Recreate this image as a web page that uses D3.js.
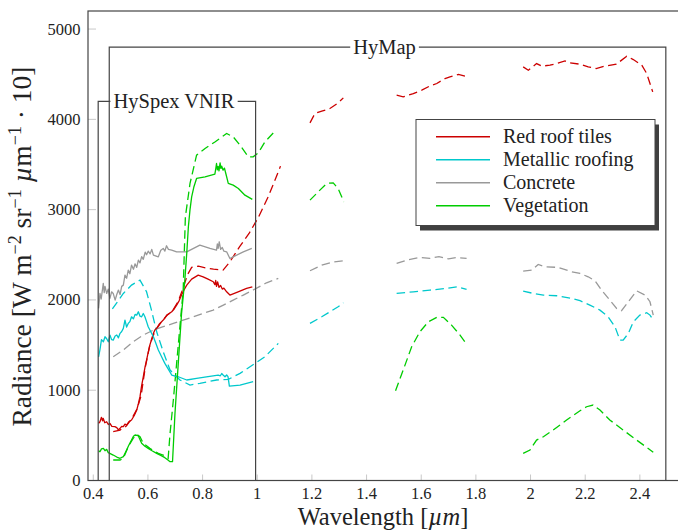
<!DOCTYPE html>
<html>
<head>
<meta charset="utf-8">
<script src="https://cdn.jsdelivr.net/npm/d3@7"></script>
<style>
  html, body { margin: 0; padding: 0; background: #fff; }
  svg { display: block; }
</style>
</head>
<body>
<div id="chart"></div>
<script>
// radiance spectra of four materials, HySpex VNIR (solid) and HyMap (dashed)
// values are [wavelength in um, radiance]; null breaks a line

const xTicks = [0.4, 0.6, 0.8, 1.0, 1.2, 1.4, 1.6, 1.8, 2.0, 2.2, 2.4];
const xTickLabels = ["0.4", "0.6", "0.8", "1", "1.2", "1.4", "1.6", "1.8", "2", "2.2", "2.4"];
const yTicks = [0, 1000, 2000, 3000, 4000, 5000];
const yTickLabels = ["0", "1000", "2000", "3000", "4000", "5000"];

const materials = ["Red roof tiles", "Metallic roofing", "Concrete", "Vegetation"];
const colors = ["#cc0000", "#00c8cc", "#999999", "#00cc00"];

// sensor footprints: [start um, end um, top radiance]
const hyspexRange = [0.418, 0.994, 4200];
const hymapRange = [0.4585, 2.495, 4800];

const redVnir = [[0.4195,633],[0.4245,651],[0.43,700],[0.434,660],[0.4366,688],[0.442,640],[0.449,651],[0.455,620],[0.461,633],[0.468,600],[0.479,596],[0.486,585],[0.492,560],[0.498,578],[0.504,600],[0.51,596],[0.516,625],[0.522,614],[0.53,650],[0.54,670],[0.55,720],[0.559,780],[0.565,850],[0.571,928],[0.577,1050],[0.583,1149],[0.589,1250],[0.595,1334],[0.601,1420],[0.607,1500],[0.614,1570],[0.62,1630],[0.626,1670],[0.632,1685],[0.641,1730],[0.65,1758],[0.66,1790],[0.669,1832],[0.678,1850],[0.687,1869],[0.696,1900],[0.705,1943],[0.714,1990],[0.723,2054],[0.732,2110],[0.742,2164],[0.76,2230],[0.784,2275],[0.802,2256],[0.82,2230],[0.839,2201],[0.845,2170],[0.848,2215],[0.851,2150],[0.855,2200],[0.86,2140],[0.866,2160],[0.872,2120],[0.878,2130],[0.888,2090],[0.9,2054],[0.93,2090],[0.961,2127],[0.982,2145]];
const redHymap = [[0.473,540],[0.498,559],[0.52,600],[0.54,680],[0.56,790],[0.575,940],[0.59,1250],[0.607,1500],[0.625,1650],[0.65,1760],[0.67,1830],[0.69,1880],[0.71,1980],[0.725,2100],[0.745,2280],[0.76,2360],[0.785,2374],[0.81,2356],[0.84,2341],[0.875,2330],[0.9,2422],[0.935,2588],[0.97,2736],[1.005,2920],[1.04,3142],[1.065,3327],[1.085,3482],
  null,[1.193,3961],[1.211,4065],[1.236,4090],[1.266,4120],[1.296,4182],[1.315,4238],
  null,[1.51,4267],[1.534,4249],[1.571,4286],[1.602,4323],[1.632,4370],[1.657,4397],[1.687,4452],[1.705,4470],[1.736,4497],[1.76,4478],
  null,[1.973,4581],[1.992,4544],[2.022,4618],[2.041,4589],[2.071,4600],[2.096,4618],[2.126,4647],[2.144,4625],[2.181,4611],[2.211,4581],[2.24,4563],[2.27,4589],[2.314,4611],[2.352,4699],[2.376,4662],[2.407,4600],[2.425,4508],[2.437,4397],[2.447,4304]];

const metalVnir = [[0.4195,1370],[0.4245,1450],[0.43,1560],[0.437,1537],[0.443,1592],[0.449,1570],[0.455,1537],[0.461,1611],[0.467,1560],[0.473,1555],[0.48,1600],[0.486,1611],[0.492,1580],[0.498,1630],[0.504,1650],[0.51,1685],[0.516,1777],[0.522,1700],[0.528,1740],[0.534,1760],[0.54,1813],[0.547,1790],[0.553,1840],[0.559,1832],[0.565,1869],[0.571,1820],[0.577,1813],[0.583,1850],[0.589,1813],[0.595,1760],[0.601,1703],[0.61,1650],[0.62,1592],[0.629,1520],[0.638,1445],[0.65,1370],[0.662,1297],[0.675,1230],[0.687,1168],[0.7,1155],[0.711,1149],[0.742,1113],[0.778,1131],[0.82,1150],[0.857,1168],[0.865,1160],[0.87,1185],[0.876,1165],[0.882,1149],[0.888,1168],[0.893,1150],[0.898,1046],[0.937,1057],[0.985,1094]];
const metalHymap = [[0.47,1900],[0.51,2072],[0.54,2164],[0.571,2220],[0.595,2090],[0.613,1887],[0.632,1647],[0.656,1426],[0.681,1223],[0.717,1113],[0.754,1057],[0.79,1076],[0.851,1113],[0.894,1120],[0.937,1187],[0.992,1297],[1.028,1370],[1.077,1519],
  null,[1.193,1740],[1.236,1813],[1.266,1869],[1.296,1924],[1.315,1968],
  null,[1.51,2072],[1.571,2090],[1.632,2109],[1.693,2127],[1.73,2145],[1.766,2116],
  null,[1.973,2098],[2.01,2072],[2.047,2054],[2.096,2046],[2.15,2017],[2.181,1991],[2.217,1943],[2.254,1887],[2.284,1813],[2.309,1703],[2.327,1555],[2.339,1555],[2.358,1630],[2.376,1758],[2.4,1832],[2.425,1858],[2.437,1832],[2.449,1777]];

const concreteVnir = [[0.4195,1907],[0.4245,2072],[0.429,2010],[0.4366,2183],[0.44,2080],[0.443,2150],[0.449,2072],[0.455,2120],[0.461,2017],[0.467,2090],[0.473,2072],[0.48,1998],[0.486,2060],[0.492,2109],[0.498,2060],[0.504,2150],[0.51,2164],[0.516,2275],[0.522,2240],[0.528,2330],[0.534,2290],[0.54,2386],[0.547,2340],[0.553,2400],[0.559,2360],[0.565,2440],[0.571,2410],[0.577,2480],[0.583,2450],[0.59,2530],[0.595,2500],[0.601,2540],[0.608,2510],[0.614,2560],[0.62,2496],[0.638,2477],[0.647,2550],[0.656,2570],[0.662,2540],[0.668,2600],[0.675,2560],[0.687,2552],[0.705,2533],[0.742,2533],[0.79,2607],[0.827,2570],[0.851,2552],[0.854,2620],[0.857,2570],[0.861,2644],[0.866,2560],[0.872,2580],[0.878,2540],[0.888,2533],[0.9,2459],[0.912,2477],[0.949,2533],[0.98,2570]];
const concreteHymap = [[0.473,1370],[0.51,1445],[0.546,1537],[0.583,1611],[0.62,1666],[0.656,1703],[0.693,1740],[0.729,1777],[0.766,1813],[0.802,1851],[0.839,1887],[0.876,1943],[0.912,1998],[0.949,2054],[0.985,2110],[1.034,2190],[1.077,2238],
  null,[1.193,2323],[1.236,2386],[1.278,2419],[1.315,2433],
  null,[1.51,2404],[1.547,2441],[1.595,2471],[1.632,2460],[1.665,2480],[1.7,2455],[1.73,2470],[1.766,2460],
  null,[1.973,2319],[2.004,2330],[2.028,2393],[2.053,2367],[2.101,2360],[2.15,2312],[2.181,2293],[2.211,2256],[2.236,2212],[2.26,2109],[2.29,1998],[2.315,1906],[2.333,1880],[2.358,1980],[2.388,2101],[2.419,2054],[2.437,1980],[2.449,1832]];

const vegVnir = [[0.4195,330],[0.4245,319],[0.43,350],[0.437,356],[0.443,330],[0.449,345],[0.455,308],[0.473,282],[0.486,260],[0.498,246],[0.51,264],[0.522,338],[0.53,390],[0.54,448],[0.547,490],[0.553,504],[0.56,500],[0.565,493],[0.577,412],[0.589,380],[0.601,356],[0.615,330],[0.632,301],[0.647,278],[0.662,253],[0.672,230],[0.681,208],[0.69,208],[0.699,744],[0.711,1297],[0.723,1851],[0.735,2220],[0.742,2515],[0.748,2810],[0.754,3000],[0.76,3142],[0.768,3250],[0.778,3345],[0.809,3363],[0.845,3393],[0.848,3450],[0.851,3511],[0.854,3440],[0.857,3480],[0.86,3430],[0.864,3518],[0.867,3456],[0.87,3482],[0.875,3437],[0.88,3460],[0.885,3400],[0.894,3290],[0.912,3271],[0.931,3234],[0.955,3160],[0.982,3113]];
const vegHymap = [[0.473,227],[0.498,227],[0.51,246],[0.528,374],[0.546,467],[0.559,511],[0.571,485],[0.583,412],[0.607,356],[0.638,301],[0.662,275],[0.674,246],[0.681,522],[0.693,891],[0.705,1297],[0.717,1703],[0.729,2109],[0.737,2920],[0.754,3290],[0.778,3603],[0.809,3677],[0.845,3750],[0.888,3843],[0.912,3806],[0.937,3714],[0.967,3585],[0.985,3585],[1.004,3629],[1.028,3750],[1.059,3850],
  null,[1.193,3105],[1.223,3197],[1.254,3290],[1.278,3297],[1.296,3234],[1.317,3086],
  null,[1.506,994],[1.534,1223],[1.565,1481],[1.595,1647],[1.626,1758],[1.657,1807],[1.681,1807],[1.711,1721],[1.742,1611],[1.766,1511],
  null,[1.973,301],[1.998,338],[2.022,448],[2.047,485],[2.083,559],[2.132,670],[2.181,773],[2.205,817],[2.229,836],[2.254,780],[2.29,670],[2.339,559],[2.388,448],[2.425,367],[2.449,312]];

const vnirSeries = [redVnir, metalVnir, concreteVnir, vegVnir];
const hymapSeries = [redHymap, metalHymap, concreteHymap, vegHymap];

// layout
const W = 678, H = 530;
const plot = { left: 88, top: 11, right: 700, bottom: 480.5 };
const frameColor = "#444";

const x = d3.scaleLinear().domain([0.38, 2.6]).range([plot.left - 0.2, plot.left - 0.2 + 2.22 * 273.3]);
const y = d3.scaleLinear().domain([0, 5200]).range([plot.bottom, plot.top]);

const svg = d3.select("#chart").append("svg")
  .attr("width", W)
  .attr("height", H)
  .attr("font-family", "'Liberation Serif', 'Times New Roman', serif");

// tick marks (inside, light grey)
const tickG = svg.append("g");
tickG.selectAll("line.xt").data(xTicks).enter().append("line")
  .attr("x1", d => x(d)).attr("x2", d => x(d))
  .attr("y1", plot.bottom).attr("y2", plot.bottom - 6)
  .attr("stroke", "#c8c8c8").attr("stroke-width", 1);
tickG.selectAll("line.yt").data(yTicks).enter().append("line")
  .attr("x1", plot.left).attr("x2", plot.left + 8)
  .attr("y1", d => y(d)).attr("y2", d => y(d))
  .attr("stroke", "#c8c8c8").attr("stroke-width", 1);

// tick labels
svg.append("g").selectAll("text").data(xTicks).enter().append("text")
  .attr("x", d => x(d)).attr("y", 498.5)
  .attr("text-anchor", "middle")
  .style("font-size", "16.5px").attr("fill", "#222")
  .text((d, i) => xTickLabels[i]);
svg.append("g").selectAll("text").data(yTicks).enter().append("text")
  .attr("x", 80.5).attr("y", d => y(d) + 5.5)
  .attr("text-anchor", "end")
  .style("font-size", "16.5px").attr("fill", "#222")
  .text((d, i) => yTickLabels[i]);

// lines
const line = d3.line()
  .defined(d => d !== null)
  .x(d => x(d[0]))
  .y(d => y(d[1]));

const dataG = svg.append("g");
hymapSeries.forEach((s, i) => {
  dataG.append("path").datum(s)
    .attr("fill", "none")
    .attr("stroke", colors[i])
    .attr("stroke-width", 1.3)
    .attr("stroke-dasharray", "8.5,4.5")
    .attr("d", line);
});
vnirSeries.forEach((s, i) => {
  dataG.append("path").datum(s)
    .attr("fill", "none")
    .attr("stroke", colors[i])
    .attr("stroke-width", 1.3)
    .attr("stroke-linejoin", "round")
    .attr("d", line);
});

// sensor brackets with labels
function bracket(range, label) {
  const g = svg.append("g");
  const x0 = x(range[0]), x1 = x(range[1]), yt = y(range[2]);
  g.append("path")
    .attr("d", `M${x0},${plot.bottom}V${yt}H${x1}V${plot.bottom}`)
    .attr("fill", "none")
    .attr("stroke", frameColor)
    .attr("stroke-width", 1.2);
  const bg = g.append("rect").attr("fill", "#fff");
  const t = g.append("text")
    .attr("x", (x0 + x1) / 2 - 3)
    .attr("y", yt + 6.5)
    .attr("text-anchor", "middle")
    .style("font-size", "20.5px")
    .attr("fill", "#222")
    .text(label);
  const bb = t.node().getBBox();
  bg.attr("x", bb.x - 3).attr("y", yt - 3).attr("width", bb.width + 6).attr("height", 6);
}
bracket(hymapRange, "HyMap");
bracket(hyspexRange, "HySpex VNIR");

// axis frame
svg.append("rect")
  .attr("x", plot.left).attr("y", plot.top)
  .attr("width", plot.right - plot.left)
  .attr("height", plot.bottom - plot.top)
  .attr("fill", "none")
  .attr("stroke", frameColor)
  .attr("stroke-width", 1.2);

// legend with drop shadow
const lg = { x: 416, y: 119.5, w: 239, h: 106 };
const legend = svg.append("g");
legend.append("rect")
  .attr("x", lg.x + 4).attr("y", lg.y + 5)
  .attr("width", lg.w).attr("height", lg.h)
  .attr("fill", "#404040");
legend.append("rect")
  .attr("x", lg.x).attr("y", lg.y)
  .attr("width", lg.w).attr("height", lg.h)
  .attr("fill", "#fff")
  .attr("stroke", frameColor)
  .attr("stroke-width", 1);
const item = legend.selectAll("g.item").data(materials).enter().append("g")
  .attr("transform", (d, i) => `translate(0, ${136.7 + i * 23})`);
item.append("line")
  .attr("x1", 436).attr("x2", 490)
  .attr("stroke", (d, i) => colors[i])
  .attr("stroke-width", 1.5);
item.append("text")
  .attr("x", 503).attr("y", 6)
  .style("font-size", "20px")
  .attr("fill", "#222")
  .text(d => d);

// axis titles
const xt = svg.append("text")
  .attr("x", 383).attr("y", 524.5)
  .attr("text-anchor", "middle")
  .style("font-size", "24.5px")
  .attr("fill", "#222");
xt.append("tspan").text("Wavelength [");
xt.append("tspan").style("font-style", "italic").text("µm");
xt.append("tspan").text("]");

const yt = svg.append("text")
  .attr("transform", "translate(31,246.5) rotate(-90)")
  .attr("text-anchor", "middle")
  .style("font-size", "27.5px")
  .attr("fill", "#222");
yt.append("tspan").text("Radiance [W m");
yt.append("tspan").attr("dy", -10).style("font-size", "18px").text("−2");
yt.append("tspan").attr("dy", 10).text(" sr");
yt.append("tspan").attr("dy", -10).style("font-size", "18px").text("−1");
yt.append("tspan").attr("dy", 10).text(" ");
yt.append("tspan").style("font-style", "italic").text("µ");
yt.append("tspan").text("m");
yt.append("tspan").attr("dy", -10).style("font-size", "18px").text("−1");
yt.append("tspan").attr("dy", 10).text(" · 10]");
</script>
</body>
</html>
